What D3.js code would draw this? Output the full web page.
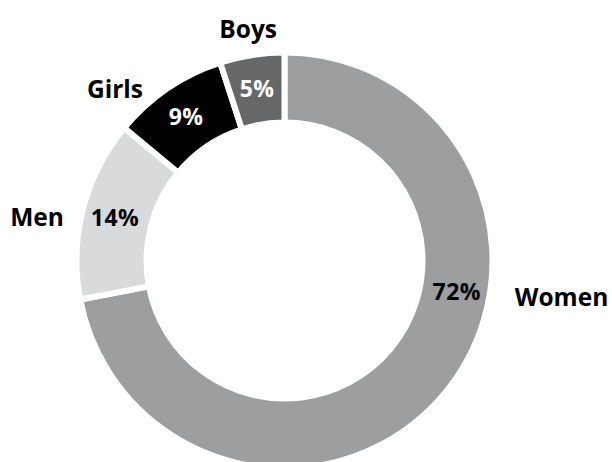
<!DOCTYPE html>
<html>
<head>
<meta charset="utf-8">
<script src="https://cdn.jsdelivr.net/npm/d3@7"></script>
<style>
  html, body { margin: 0; padding: 0; background: #fff; }
  svg { display: block; }
  text { font-family: "Open Sans", "Noto Sans", sans-serif; font-weight: 700; }
</style>
</head>
<body>
<div class="chart"></div>
<script>
// data
const categories = ["Women", "Men", "Girls", "Boys"];
const shares = [72, 14, 9, 5];

// styling
const fills = ["#9d9ea0", "#d9dadb", "#000000", "#666769"];
const valueColors = ["#000", "#000", "#fff", "#fff"];
// where along each slice the value label sits (0..1)
const valueAt = [0.386, 0.5, 0.5, 0.5];
// name labels: angle (deg, clockwise from top) and radius
const nameAngle = [98.8, 281.4, 320.6, 351.1];
const nameRadius = [233, 225, 223, 235];

const width = 612, height = 462;
const cx = 284.5, cy = 260.5;
const outerR = 208, innerR = 138;

const svg = d3.select(".chart").append("svg")
    .attr("width", width)
    .attr("height", height);

const g = svg.append("g").attr("transform", `translate(${cx},${cy})`);

const pie = d3.pie().sort(null).value(d => d);
const arcs = pie(shares);

const arc = d3.arc().innerRadius(innerR).outerRadius(outerR);

g.selectAll("path.slice")
    .data(arcs)
    .enter().append("path")
    .attr("class", "slice")
    .attr("d", arc)
    .attr("fill", (d, i) => fills[i])
    .attr("stroke", "#fff")
    .attr("stroke-width", 6)
    .attr("stroke-linejoin", "miter");

// value labels
const valueR = 175;
g.selectAll("text.value")
    .data(arcs)
    .enter().append("text")
    .attr("class", "value")
    .attr("x", (d, i) => valueR * Math.sin(d.startAngle + (d.endAngle - d.startAngle) * valueAt[i]))
    .attr("y", (d, i) => -valueR * Math.cos(d.startAngle + (d.endAngle - d.startAngle) * valueAt[i]))
    .attr("text-anchor", "middle")
    .attr("dominant-baseline", "central")
    .attr("font-size", 23)
    .attr("letter-spacing", 0.5)
    .attr("fill", (d, i) => valueColors[i])
    .text(d => d.data + "%");

// category labels
g.selectAll("text.name")
    .data(categories)
    .enter().append("text")
    .attr("class", "name")
    .attr("x", (d, i) => nameRadius[i] * Math.sin(nameAngle[i] * Math.PI / 180))
    .attr("y", (d, i) => -nameRadius[i] * Math.cos(nameAngle[i] * Math.PI / 180))
    .attr("text-anchor", (d, i) => {
        const s = Math.sin(nameAngle[i] * Math.PI / 180);
        if (Math.abs(s) < 0.3) return "middle";
        return s > 0 ? "start" : "end";
    })
    .attr("dominant-baseline", "central")
    .attr("font-size", 24.5)
    .attr("fill", "#000")
    .text(d => d);
</script>
</body>
</html>
